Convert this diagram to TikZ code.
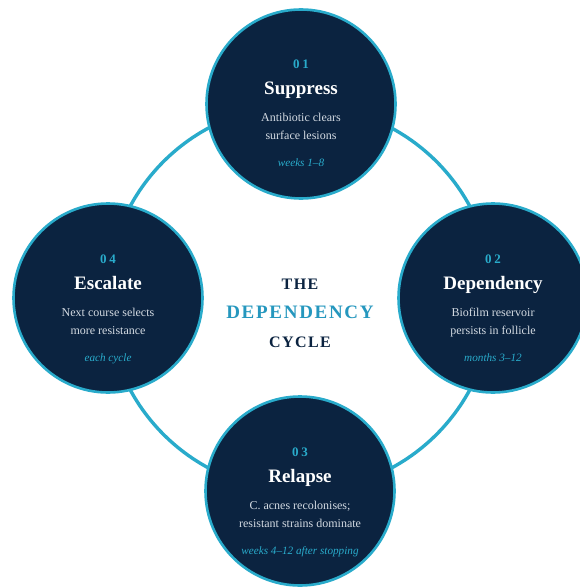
\documentclass[tikz,border=0pt]{standalone}
\usepackage{fontspec}
\setmainfont{Liberation Serif}
\newfontfamily\spaced[LetterSpace=9]{Liberation Serif}
\usetikzlibrary{calc}

\definecolor{navy}{HTML}{0B2340}
\definecolor{teal}{HTML}{29ABCB}
\definecolor{tealtext}{HTML}{2597BE}
\definecolor{paletext}{HTML}{D3DAE2}

\tikzset{
  stagedisc/.style={circle, fill=navy, draw=teal, line width=2.6pt,
    minimum size=189pt, inner sep=0pt},
  stagenum/.style={anchor=base, text=teal, font=\bfseries\fontsize{13}{13}\selectfont},
  stagetitle/.style={anchor=base, text=white, font=\bfseries\fontsize{19}{19}\selectfont},
  stagedesc/.style={anchor=base, text=paletext, font=\fontsize{12}{12}\selectfont},
  stagewhen/.style={anchor=base, text=teal, font=\itshape\fontsize{11.2}{11.2}\selectfont},
  cyclering/.style={draw=teal, line width=3.4pt},
  hubdark/.style={anchor=base, text=navy, font=\spaced\bfseries\fontsize{16}{16}\selectfont},
  hubaccent/.style={anchor=base, text=tealtext, font=\spaced\bfseries\fontsize{19}{19}\selectfont},
}

% \stage{name}{x}{y}{number}{title}{line 1}{line 2}{timing}
\newcommand\stage[8]{%
  \node[stagedisc] (#1) at (#2,#3) {};
  \node[stagenum]   (#1-num)   at ($(#1)+(0,-35)$) {#4};
  \node[stagetitle] (#1-title) at ($(#1)+(0,-9)$)  {#5};
  \node[stagedesc]  (#1-d1)    at ($(#1)+(0,18)$)  {#6};
  \node[stagedesc]  (#1-d2)    at ($(#1)+(0,36)$)  {#7};
  \node[stagewhen]  (#1-when)  at ($(#1)+(0,63)$)  {#8};
}

\begin{document}
\begin{tikzpicture}[x=1pt, y=-1pt]
  \useasboundingbox (0,0) rectangle (579,588);
  \fill[white] (0,0) rectangle (579,588);

  % the loop joining the four stages
  \coordinate (hub) at (300,298);
  \draw[cyclering] (hub) circle[radius=193];

  \stage{suppress}{301}{104}{0\hspace{3pt}1}{Suppress}{Antibiotic clears}{surface lesions}{weeks 1--8}
  \stage{dependency}{493}{298}{0\hspace{3pt}2}{Dependency}{Biofilm reservoir}{persists in follicle}{months 3--12}
  \stage{relapse}{300}{491}{0\hspace{3pt}3}{Relapse}{C. acnes recolonises;}{resistant strains dominate}{weeks 4--12 after stopping}
  \stage{escalate}{108}{298}{0\hspace{3pt}4}{Escalate}{Next course selects}{more resistance}{each cycle}

  % centre caption
  \node[hubdark]   (the)   at (300,289) {THE};
  \node[hubaccent] (dep)   at (300,318) {DEPENDENCY};
  \node[hubdark]   (cycle) at (300,347) {CYCLE};
\end{tikzpicture}
\end{document}
